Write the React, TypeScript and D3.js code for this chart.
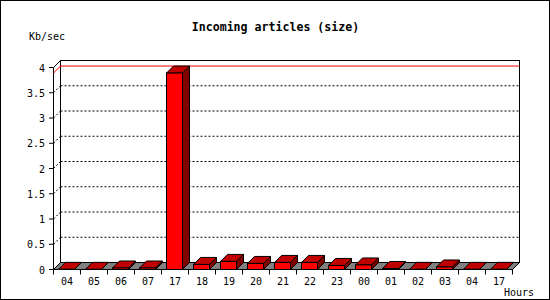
import React from "react";
import * as d3 from "d3";

const hours = ["04", "05", "06", "07", "17", "18", "19", "20", "21", "22", "23", "00", "01", "02", "03", "04", "17"];
const kbPerSec = [0.003, 0.003, 0.03, 0.03, 3.89, 0.1, 0.16, 0.12, 0.14, 0.14, 0.08, 0.09, 0.02, 0.003, 0.05, 0.003, 0.003];
const yTicks = [0, 0.5, 1, 1.5, 2, 2.5, 3, 3.5, 4];
const title = "Incoming articles (size)";
const yLabel = "Kb/sec";
const xLabel = "Hours";

const W = 550;
const H = 300;
const D = 7; // depth offset
const X0 = 53.5;
const SLOT = 27;
const BAR_OFF = 5;
const BAR_W = 16;

export default function App() {
  const n = hours.length;
  const xBand = d3
    .scaleBand<number>()
    .domain(d3.range(n))
    .range([X0, X0 + n * SLOT])
    .paddingInner(0)
    .paddingOuter(0);
  const yF = d3.scaleLinear().domain([0, 4]).range([269.5, 67.5]);
  const yB = (v: number) => yF(v) - D;
  const xRight = X0 + n * SLOT;
  const maxV = d3.max(kbPerSec) as number;
  const mono = "'DejaVu Sans Mono', monospace";

  return (
    <div style={{ position: "fixed", left: 0, top: 0 }}>
      <svg width={W} height={H} style={{ display: "block", background: "#fff" }}>
        <rect x={0.5} y={0.5} width={W - 1} height={H - 1} fill="#fff" stroke="#000" />
        <text x={275.5} y={30.5} textAnchor="middle" fontFamily={mono} fontWeight="bold" fontSize={11.6}>
          {title}
        </text>
        <text x={29} y={40} fontFamily={mono} fontSize={10}>
          {yLabel}
        </text>
        <text x={534} y={296} textAnchor="end" fontFamily={mono} fontSize={10}>
          {xLabel}
        </text>

        {/* back wall */}
        <rect x={X0 + D} y={yB(4)} width={xRight - X0} height={yB(0) - yB(4)} fill="#fff" stroke="#000" />
        {/* left side top edge and front axis */}
        <line x1={X0} y1={yF(4)} x2={X0 + D} y2={yB(4)} stroke="#000" />
        <line x1={X0} y1={yF(4)} x2={X0} y2={yF(0)} stroke="#000" />

        {/* grid lines */}
        {yTicks
          .filter((t) => t > 0 && t < 4)
          .map((t) => (
            <g key={"g" + t}>
              <line x1={X0} y1={yF(t)} x2={X0 + D} y2={yB(t)} stroke="#000" strokeDasharray="2,2" />
              <line x1={X0 + D} y1={yB(t)} x2={xRight + D} y2={yB(t)} stroke="#000" strokeDasharray="2,2" />
            </g>
          ))}

        {/* max line */}
        <line x1={X0} y1={yF(maxV)} x2={X0 + D} y2={yB(maxV)} stroke="#ff0000" />
        <line x1={X0 + D} y1={yB(maxV)} x2={xRight + D - 0.5} y2={yB(maxV)} stroke="#ff0000" />

        {/* y ticks and labels */}
        {yTicks.map((t) => (
          <g key={"t" + t}>
            <line x1={49} y1={yF(t)} x2={X0} y2={yF(t)} stroke="#000" />
            <text x={45} y={yF(t) + 4} textAnchor="end" fontFamily={mono} fontSize={10}>
              {String(t)}
            </text>
          </g>
        ))}

        {/* floor */}
        <path
          d={`M${X0},${yF(0)}L${xRight},${yF(0)}L${xRight + D},${yB(0)}L${X0 + D},${yB(0)}Z`}
          fill="#808080"
          stroke="#000"
        />

        {/* bars */}
        {kbPerSec.map((v, i) => {
          const fx = (xBand(i) as number) + BAR_OFF;
          const ty = yF(v);
          const by = yF(0);
          return (
            <g key={"b" + i} stroke="#000" strokeLinejoin="miter">
              <path
                d={`M${fx + BAR_W},${ty}L${fx + BAR_W + D},${ty - D}L${fx + BAR_W + D},${by - D}L${fx + BAR_W},${by}Z`}
                fill="#800000"
              />
              <path
                d={`M${fx},${ty}L${fx + BAR_W},${ty}L${fx + BAR_W + D},${ty - D}L${fx + D},${ty - D}Z`}
                fill="#c00000"
              />
              <rect x={fx} y={ty} width={BAR_W} height={Math.max(0, by - ty)} fill="#ff0000" />
            </g>
          );
        })}

        {/* x axis ticks */}
        {d3.range(n + 1).map((k) => (
          <line key={"x" + k} x1={X0 + k * SLOT} y1={yF(0)} x2={X0 + k * SLOT} y2={274.5} stroke="#000" />
        ))}
        <line x1={X0} y1={yF(0)} x2={xRight} y2={yF(0)} stroke="#000" />
        {hours.map((h, i) => (
          <text
            key={"l" + i}
            x={(xBand(i) as number) + xBand.bandwidth() / 2}
            y={285}
            textAnchor="middle"
            fontFamily={mono}
            fontSize={10}
          >
            {h}
          </text>
        ))}
      </svg>
    </div>
  );
}
